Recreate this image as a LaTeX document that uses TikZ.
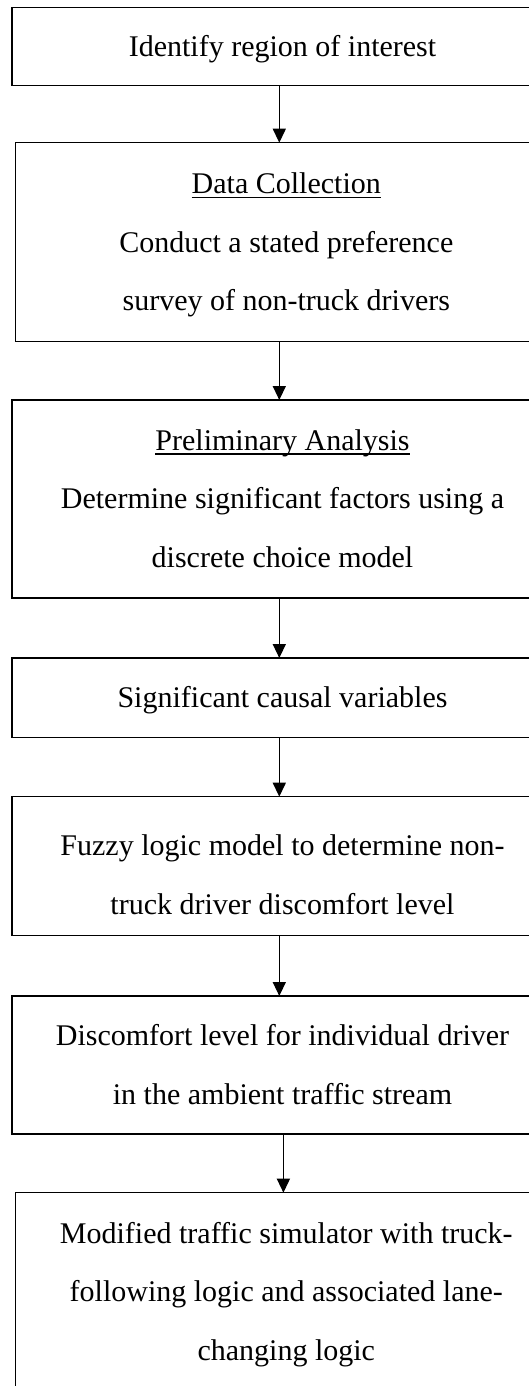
\documentclass[tikz,border=0pt]{standalone}
\usepackage{fontspec}
\setmainfont{Liberation Serif}
\usetikzlibrary{arrows.meta}
\newcommand\myul[1]{\setbox0\hbox{#1}\rlap{\rule[-4.2pt]{\wd0}{1.3pt}}\box0}
\newcommand\mystrut{\rule[-19.35pt]{0pt}{58.5pt}}
\newcommand\mytallstrut{\rule[-19.35pt]{0pt}{76.5pt}}
\begin{document}
\begin{tikzpicture}[x=1pt,y=1pt,
  box/.style={draw, line width=1.4pt, inner sep=0pt, outer sep=0pt,
    minimum width=541pt, align=center, anchor=north west,
    font=\fontsize{30}{58.5}\selectfont},
  boxb/.style={box, minimum width=542.2pt},
  arr/.style={line width=1.4pt, -{Triangle[length=14pt,width=13pt]}}]
\useasboundingbox (0,0) rectangle (529,-1386);
\clip (0,0) rectangle (529,-1386);
\fill[white] (0,0) rectangle (529,-1386);
\node[box, minimum height=78.4pt] (b1) at (12,-7.3)
  {\mystrut Identify region of interest};
\node[boxb, minimum height=199pt] (b2) at (15.2,-142.7)
  {\mystrut\myul{Data Collection}\\ \mystrut Conduct a stated preference\\ \mystrut survey of non-truck drivers};
\node[box, minimum height=198pt] (b3) at (12,-400)
  {\mystrut\myul{Preliminary Analysis}\\ \mystrut Determine significant factors using a\\ \mystrut discrete choice model};
\node[box, minimum height=79.7pt] (b4) at (12,-658)
  {\mystrut Significant causal variables};
\node[box, minimum height=139pt] (b5) at (12,-796.7)
  {\mytallstrut Fuzzy logic model to determine non-\\ \mystrut truck driver discomfort level};
\node[box, minimum height=138pt] (b6) at (12,-996)
  {\mystrut Discomfort level for individual driver\\ \mystrut in the ambient traffic stream};
\node[boxb, minimum height=198pt] (b7) at (15.2,-1192.7)
  {\mystrut Modified traffic simulator with truck-\\ \mystrut following logic and associated lane-\\ \mystrut changing logic};
\coordinate (ax) at (279.3,0);
\coordinate (axl) at (283.4,0);
\draw[arr] (b1.south -| ax) -- (b2.north -| ax);
\draw[arr] (b2.south -| ax) -- (b3.north -| ax);
\draw[arr] (b3.south -| ax) -- (b4.north -| ax);
\draw[arr] (b4.south -| ax) -- (b5.north -| ax);
\draw[arr] (b5.south -| ax) -- (b6.north -| ax);
\draw[arr] (b6.south -| axl) -- (b7.north -| axl);
\end{tikzpicture}
\end{document}
